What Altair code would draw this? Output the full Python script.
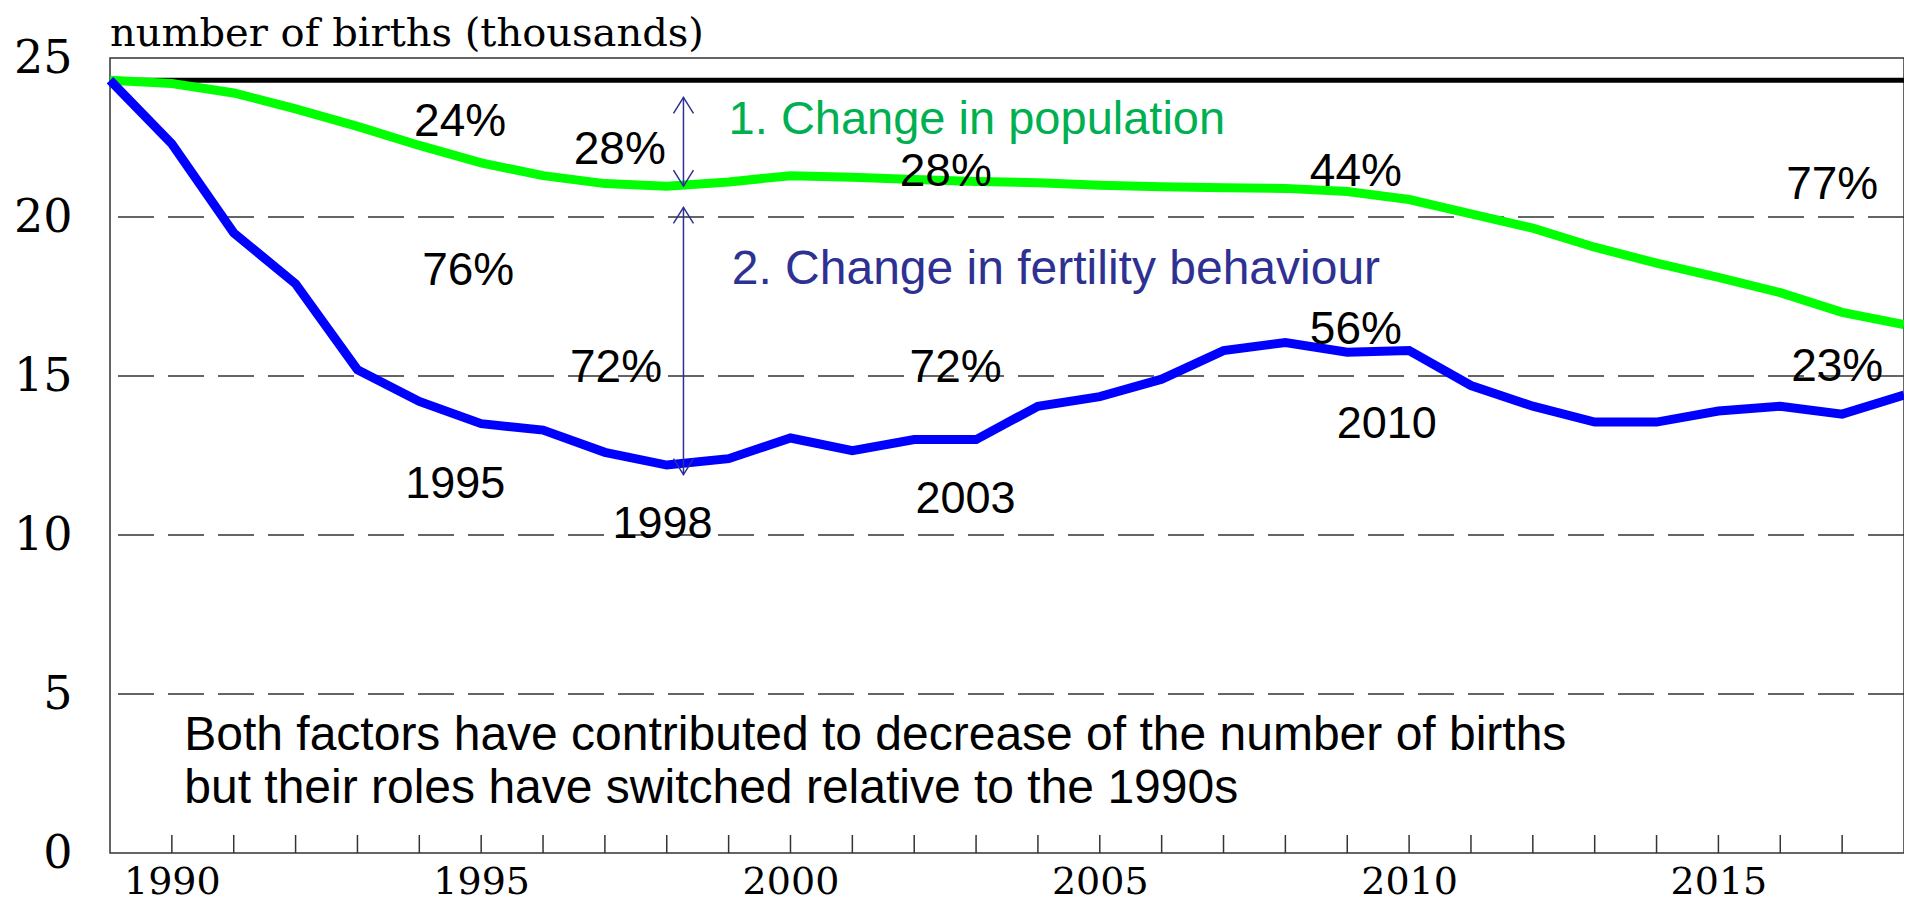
import altair as alt
import pandas as pd

# ---- data ----
years = list(range(1989, 2019))
births_actual = [24.3, 22.3, 19.5, 17.9, 15.2, 14.2, 13.5, 13.3, 12.6, 12.2,
                 12.4, 13.05, 12.65, 13.0, 13.0, 14.05, 14.35, 14.9, 15.8, 16.05,
                 15.75, 15.8, 14.7, 14.05, 13.55, 13.55, 13.9, 14.05, 13.8, 14.4]
births_const_fertility = [24.3, 24.2, 23.9, 23.4, 22.85, 22.25, 21.7, 21.3, 21.05, 20.97,
                          21.1, 21.3, 21.25, 21.18, 21.12, 21.08, 21.0, 20.95, 20.92, 20.9,
                          20.8, 20.55, 20.1, 19.65, 19.05, 18.55, 18.1, 17.62, 17.0, 16.62]
baseline_1989 = births_actual[0]

y_tick_values = [0, 5, 10, 15, 20, 25]
grid_values = [5, 10, 15, 20]
x_label_years = [1990, 1995, 2000, 2005, 2010, 2015]
x_tick_years = list(range(1990, 2018))

title_text = "number of births (thousands)"

# percentage annotations (anchor year, anchor value)
pct_text = ["24%", "28%", "76%", "72%", "28%", "72%", "44%", "56%", "77%", "23%"]
pct_year = [1994.66, 1997.24, 1994.79, 1997.18, 2002.51, 2002.67, 2009.14, 2009.14, 2016.84, 2016.92]
pct_value = [23.0, 22.1, 18.3, 15.25, 21.4, 15.25, 21.4, 16.45, 21.0, 15.28]

# year annotations
yr_text = ["1995", "1998", "2003", "2010"]
yr_year = [1994.58, 1997.93, 2002.83, 2009.64]
yr_value = [11.6, 10.36, 11.12, 13.48]

# factor labels
pop_label = "1. Change in population"
fert_label = "2. Change in fertility behaviour"
factor_year = [1999.0, 1999.05]
factor_value = [23.05, 18.32]

# note
note_lines = ["Both factors have contributed to decrease of the number of births",
              "but their roles have switched relative to the 1990s"]
note_year = [1990.2, 1990.2]
note_value = [3.68, 2.0]

# double arrows at 1998
arrow_year = 1998.27
arrow_pop = [23.76, 20.97]
arrow_fert = [20.3, 11.9]

# ---- tables ----
lines_df = pd.DataFrame({"year": years, "actual": births_actual,
                         "const": births_const_fertility,
                         "base": [baseline_1989] * len(years)})
grid_df = pd.DataFrame({"value": grid_values})
ticks_df = pd.DataFrame({"year": x_tick_years})
pct_df = pd.DataFrame({"year": pct_year, "value": pct_value, "text": pct_text})
yr_df = pd.DataFrame({"year": yr_year, "value": yr_value, "text": yr_text})
pop_df = pd.DataFrame({"year": [factor_year[0]], "value": [factor_value[0]], "text": [pop_label]})
fert_df = pd.DataFrame({"year": [factor_year[1]], "value": [factor_value[1]], "text": [fert_label]})
note_df = pd.DataFrame({"year": note_year, "value": note_value, "text": note_lines})
title_df = pd.DataFrame({"text": [title_text]})
shaft_df = pd.DataFrame({"year": [arrow_year, arrow_year],
                         "y1": [arrow_pop[0], arrow_fert[0]],
                         "y2": [arrow_pop[1], arrow_fert[1]]})
head_up_df = pd.DataFrame({"year": [arrow_year, arrow_year], "value": [arrow_pop[0], arrow_fert[0]]})
head_dn_df = pd.DataFrame({"year": [arrow_year, arrow_year], "value": [arrow_pop[1], arrow_fert[1]]})

W, H = 1794, 795
xscale = alt.Scale(domain=[1989, 2018], nice=False, zero=False)
yscale = alt.Scale(domain=[0, 25], nice=False, zero=True)
GRAY = "#333333"
NAVY = "#2E3192"

x_axis = alt.Axis(values=x_label_years, format="d", title=None, grid=False,
                  domain=False, ticks=False, labelFont="DejaVu Serif",
                  labelFontSize=38, labelColor="black", labelPadding=10,
                  labelFlush=False, labelOverlap=False)
y_axis = alt.Axis(values=y_tick_values, title=None, grid=False, domain=False,
                  ticks=False, labelFont="DejaVu Serif", labelFontSize=46,
                  labelColor="black", labelPadding=38, labelFlush=False,
                  labelOverlap=False, labelBaseline="middle")


def X(field="year:Q"):
    return alt.X(field, scale=xscale, axis=x_axis)


def Y(field):
    return alt.Y(field, scale=yscale, axis=y_axis)


grid = alt.Chart(grid_df).mark_rule(color=GRAY, strokeWidth=1.5, strokeDash=[36, 14]).encode(
    y=Y("value:Q"))

ticks = alt.Chart(ticks_df).mark_rule(color=GRAY, strokeWidth=1.5).encode(
    x=X(), y=alt.value(H), y2=alt.value(H - 18))

base_line = alt.Chart(lines_df).mark_line(color="black", strokeWidth=5).encode(x=X(), y=Y("base:Q"))
green = alt.Chart(lines_df).mark_line(color="#00FF00", strokeWidth=9).encode(x=X(), y=Y("const:Q"))
blue = alt.Chart(lines_df).mark_line(color="#0000FF", strokeWidth=9).encode(x=X(), y=Y("actual:Q"))

shafts = alt.Chart(shaft_df).mark_rule(color=NAVY, strokeWidth=1.5).encode(
    x=X(), y=Y("y1:Q"), y2="y2:Q")
heads_up = alt.Chart(head_up_df).mark_point(
    shape="M-1,1.6L0,0L1,1.6", size=400, filled=False, color=NAVY, strokeWidth=1.5, opacity=1).encode(
    x=X(), y=Y("value:Q"))
heads_dn = alt.Chart(head_dn_df).mark_point(
    shape="M-1,-1.6L0,0L1,-1.6", size=400, filled=False, color=NAVY, strokeWidth=1.5, opacity=1).encode(
    x=X(), y=Y("value:Q"))


def text_layer(df, color, size, align="center"):
    return alt.Chart(df).mark_text(font="Liberation Sans", fontSize=size, color=color,
                                   align=align, baseline="middle").encode(
        x=X(), y=Y("value:Q"), text="text:N")


pct = text_layer(pct_df, "black", 46)
yrs = text_layer(yr_df, "black", 45)
pop = text_layer(pop_df, "#00B050", 47, "left")
fert = text_layer(fert_df, NAVY, 48, "left")
note = text_layer(note_df, "black", 48, "left")

title = alt.Chart(title_df).mark_text(font="DejaVu Serif", fontSize=40, color="black",
                                      align="left", baseline="top").encode(
    x=alt.value(0), y=alt.value(-44), text="text:N")

chart = alt.layer(
    grid, ticks, base_line, green, blue, shafts, heads_up, heads_dn,
    pct, yrs, pop, fert, note, title
).properties(
    width=W, height=H,
    padding={"left": 102, "top": 50, "right": 0, "bottom": 60},
    autosize="none",
    background="white",
).configure_view(stroke=GRAY, strokeWidth=1.5)

chart.save("out.html", embed_options={"renderer": "svg", "actions": False})
